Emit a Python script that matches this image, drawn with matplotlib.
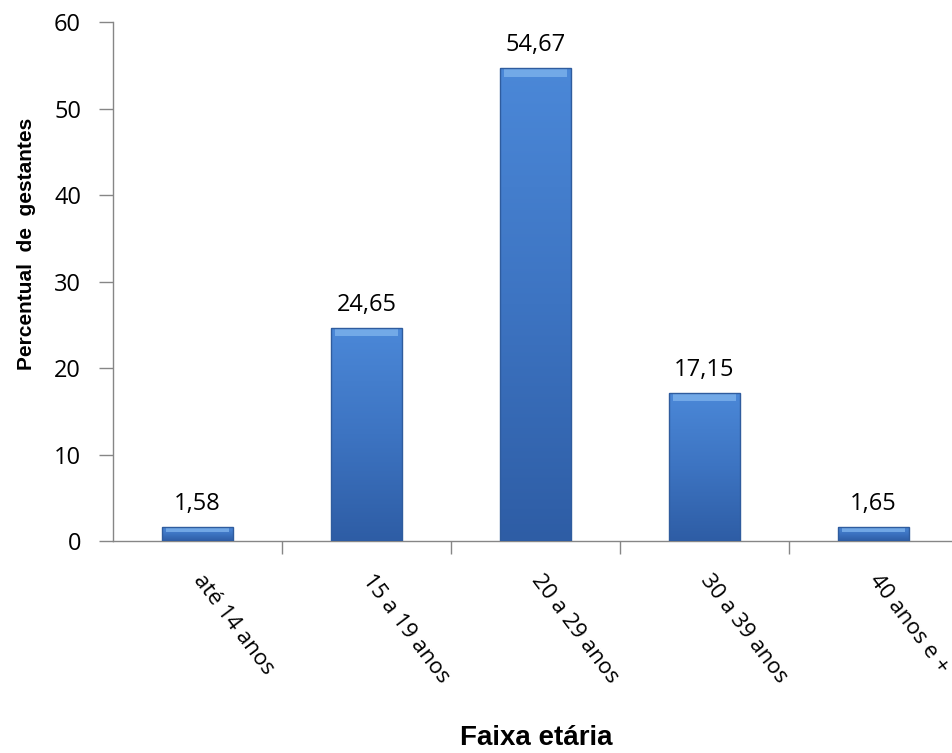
import numpy as np
import matplotlib.pyplot as plt
from matplotlib.colors import LinearSegmentedColormap

categorias = ['até 14 anos', '15 a 19 anos', '20 a 29 anos', '30 a 39 anos', '40 anos e +']
percentual = [1.58, 24.65, 54.67, 17.15, 1.65]
yticks = [0, 10, 20, 30, 40, 50, 60]

cor = '#868686'
fonte = 'Open Sans'

fig = plt.figure(figsize=(9.52, 7.53), dpi=100)
ax = fig.add_axes([0.1187, 0.2815, 0.8876, 0.6892])

x = np.arange(len(categorias))
barras = ax.bar(x, percentual, width=0.42, color='none', edgecolor='#2F5C9E', linewidth=1.0, zorder=4)

# degradê vertical nas barras
grad = LinearSegmentedColormap.from_list('g', ['#2E5DA5', '#3D74C2', '#4B88D8'])
for b in barras:
    bx, by = b.get_x(), b.get_y()
    w, h = b.get_width(), b.get_height()
    im = ax.imshow(np.linspace(0, 1, 256).reshape(-1, 1), cmap=grad, origin='lower',
                   extent=[bx, bx + w, by, by + h], aspect='auto', zorder=3)
    im.set_clip_path(b)
    hl = min(0.9, h * 0.3)
    ax.bar(bx + w / 2, hl, bottom=by + h - hl - 0.1, width=w * 0.88, color='#7DB2EC',
           alpha=0.8, linewidth=0, zorder=3.5)

for xi, v in zip(x, percentual):
    ax.annotate(('%.2f' % v).replace('.', ','), (xi, v), xytext=(0, 8), textcoords='offset points',
                ha='center', va='bottom', fontsize=17, family=fonte)

ax.set_xlim(-0.5, len(categorias) - 0.5)
ax.set_ylim(0, 60)
ax.set_yticks(yticks)
ax.set_yticklabels([str(t) for t in yticks], fontsize=17, family=fonte)

ax.set_xticks(np.arange(len(categorias) - 1) + 0.5)
ax.set_xticklabels([])
ax.set_xticks(x, minor=True)
ax.set_xticklabels(categorias, minor=True, rotation=-53, ha='left', va='center',
                   rotation_mode='anchor', fontsize=16, family=fonte)
ax.tick_params(axis='x', which='minor', length=0, pad=26)
ax.tick_params(axis='x', which='major', length=9, color=cor, width=1)
ax.tick_params(axis='y', which='major', length=10, color=cor, width=1, pad=13)

for s in ['top', 'right']:
    ax.spines[s].set_visible(False)
for s in ['left', 'bottom']:
    ax.spines[s].set_color(cor)
    ax.spines[s].set_linewidth(1)

fig.text(27 / 952, 1 - 244 / 753, 'Percentual  de  gestantes', rotation=90, ha='center', va='center',
         fontsize=15, fontweight='bold', family='Liberation Sans')
fig.text(536 / 952, 1 - 738 / 753, 'Faixa etária', ha='center', va='center',
         fontsize=20, fontweight='bold', family='Liberation Sans')

plt.savefig('out.png', dpi=100)
